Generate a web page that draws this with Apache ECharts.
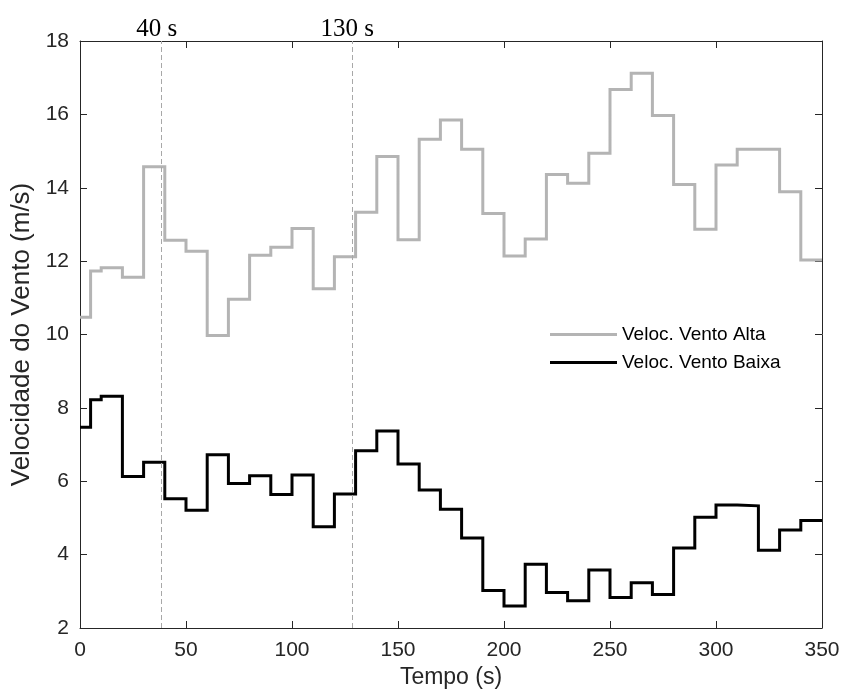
<!DOCTYPE html>
<html>
<head>
<meta charset="utf-8">
<script src="https://cdn.jsdelivr.net/npm/echarts@6/dist/echarts.min.js"></script>
<style>
html,body{margin:0;padding:0;background:#fff;}
#chart{width:843px;height:698px;}
</style>
</head>
<body>
<div id="chart"></div>
<script>
// Step start times (s)
const stepTimes = [0,5,10,20,30,40,50,60,70,80,90,100,110,120,130,140,150,160,170,180,190,200,210,220,230,240,250,260,270,280,290,300,310,320,330,340];
const endTime = 350;
// Veloc. Vento Alta (m/s)
const ventoAlta = [10.47,11.73,11.82,11.56,14.57,12.57,12.27,9.97,10.96,12.16,12.38,12.89,11.25,12.12,13.33,14.85,12.58,15.32,15.85,15.05,13.30,12.14,12.60,14.36,14.12,14.94,16.68,17.12,15.97,14.09,12.87,14.62,15.05,15.05,13.89,12.03];
// Veloc. Vento Baixa (m/s)
const ventoBaixa = [7.47,8.22,8.32,6.13,6.52,5.52,5.21,6.72,5.94,6.15,5.64,6.17,4.76,5.65,6.83,7.37,6.47,5.76,5.24,4.45,3.02,2.60,3.74,2.97,2.74,3.58,2.83,3.23,2.91,4.18,5.02,5.35,5.33,4.12,4.67,4.93];
const seriesNames = ['Veloc. Vento Alta','Veloc. Vento Baixa'];
// Event markers
const markerTimes = [38.5, 128.4];
const markerLabels = ['40 s', '130 s'];
const xTicks = {min:0, max:350, interval:50};
const yTicks = {min:2, max:18, interval:2};

function stairs(vals){
  const d = stepTimes.map((t,i)=>[t, vals[i]]);
  d.push([endTime, vals[vals.length-1]]);
  return d;
}

const axisColor = '#262626';
const font = '"Liberation Sans", Arial, sans-serif';

const chart = echarts.init(document.getElementById('chart'), null, {renderer:'canvas'});
chart.setOption({
  animation:false,
  backgroundColor:'#ffffff',
  grid:{left:80, right:21, top:41, bottom:70},
  legend:{
    show:true,
    orient:'vertical', left:545, top:319,
    icon:'rect',
    itemWidth:67, itemHeight:3, itemGap:7,
    textStyle:{fontFamily:font, fontSize:19, color:'#000', lineHeight:21},
    data:seriesNames
  },
  xAxis:[
    {type:'value', min:xTicks.min, max:xTicks.max, interval:xTicks.interval, position:'bottom',
     name:'Tempo (s)', nameLocation:'middle', nameGap:38,
     nameTextStyle:{fontFamily:font, fontSize:23, color:axisColor},
     axisLine:{show:true, onZero:false, lineStyle:{color:axisColor, width:1}},
     axisTick:{show:true, inside:true, length:7, lineStyle:{color:axisColor}},
     axisLabel:{fontFamily:font, fontSize:21, color:axisColor, margin:12},
     splitLine:{show:false}},
    {type:'value', min:xTicks.min, max:xTicks.max, interval:xTicks.interval, position:'top',
     axisLine:{show:true, onZero:false, lineStyle:{color:axisColor, width:1}},
     axisTick:{show:true, inside:true, length:7, lineStyle:{color:axisColor}},
     axisLabel:{show:false}, splitLine:{show:false}}
  ],
  yAxis:[
    {type:'value', min:yTicks.min, max:yTicks.max, interval:yTicks.interval, position:'left',
     name:'Velocidade do Vento (m/s)', nameLocation:'middle', nameGap:42, nameRotate:90,
     nameTextStyle:{fontFamily:font, fontSize:26, color:axisColor},
     axisLine:{show:true, onZero:false, lineStyle:{color:axisColor, width:1}},
     axisTick:{show:true, inside:true, length:7, lineStyle:{color:axisColor}},
     axisLabel:{fontFamily:font, fontSize:21, color:axisColor, margin:11},
     splitLine:{show:false}},
    {type:'value', min:yTicks.min, max:yTicks.max, interval:yTicks.interval, position:'right',
     axisLine:{show:true, onZero:false, lineStyle:{color:axisColor, width:1}},
     axisTick:{show:true, inside:true, length:7, lineStyle:{color:axisColor}},
     axisLabel:{show:false}, splitLine:{show:false}}
  ],
  series:[
    {name:seriesNames[0], type:'line', step:'end', data:stairs(ventoAlta),
     xAxisIndex:0, yAxisIndex:0, showSymbol:false, symbol:'none',
     lineStyle:{color:'#b4b4b4', width:3, join:'miter'}, itemStyle:{color:'#b4b4b4'},
     markLine:{silent:true, symbol:['none','none'],
       lineStyle:{color:'#a8a8a8', width:1, type:[5,3]},
       label:{show:true, position:'end', distance:1, offset:[-5,2],
              fontFamily:'"Liberation Serif", "Times New Roman", serif', fontSize:25, color:'#000',
              formatter:(p)=>markerLabels[p.dataIndex]},
       data:markerTimes.map(t=>({xAxis:t}))}
    },
    {name:seriesNames[1], type:'line', step:'end', data:stairs(ventoBaixa),
     xAxisIndex:0, yAxisIndex:0, showSymbol:false, symbol:'none',
     lineStyle:{color:'#000000', width:3, join:'miter'}, itemStyle:{color:'#000000'}}
  ]
});
</script>
</body>
</html>
